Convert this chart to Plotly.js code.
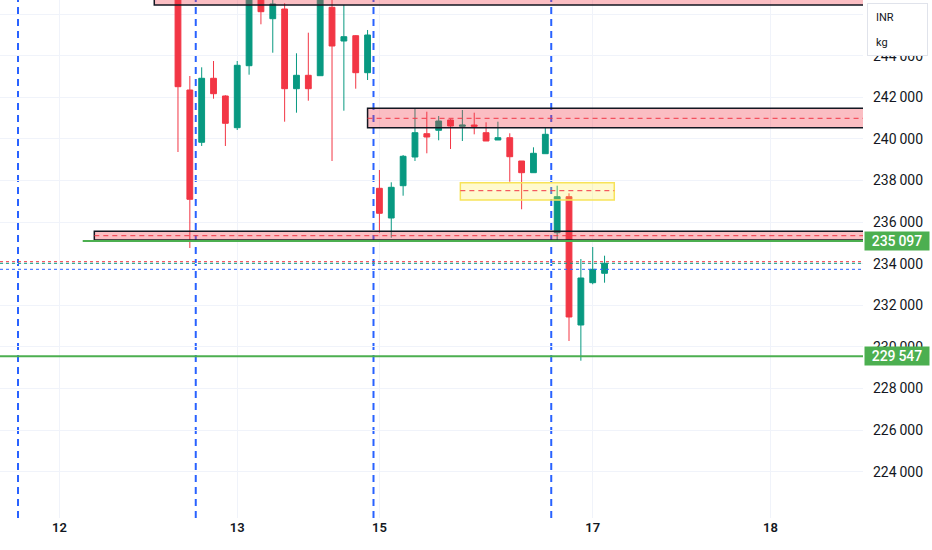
<!DOCTYPE html>
<html>
<head>
<meta charset="utf-8">
<script src="https://cdn.plot.ly/plotly-3.0.1.min.js"></script>
<style>html,body{margin:0;padding:0;background:#fff;}#chart{width:932px;height:550px;}</style>
</head>
<body>
<div id="chart"></div>
<script>
// Bar index (hourly bars, 15 per session)
var barIndex = [13,14,15,16,17,18,19,20,21,22,23,24,25,26,27,28,29,30,31,32,33,34,35,36,37,38,39,40,41,42,43,44,45,46,47,48,49];
var openV  = [247600,242351,239837,242914,242063,240539,243519,246870,245779,246245,242414,243058,243039,246327,244707,244962,243183,237625,236197,237750,239130,240250,240414,240909,240606,240668,240298,239947,240058,238938,238375,239289,235490,237221,231053,233087,233539];
var highV  = [247900,243024,243442,243745,242100,243745,247400,247063,246774,246519,244116,245106,247400,246700,246438,244990,245236,238505,237914,239226,241471,241308,241101,240950,241390,241260,240798,240827,240270,238938,239596,240539,237750,237385,234225,234803,234385];
var lowV   = [239370,234755,239659,241933,239659,240428,243087,245510,244144,240827,241260,241837,243039,238938,241356,242414,242832,235490,235250,237269,238938,239308,239933,239515,239899,240221,239899,239947,237942,236616,238375,239289,235091,230284,229337,233011,233087];
var closeV = [242510,237096,242914,242173,240750,243539,247063,246116,246486,242414,243058,242414,247159,244466,244914,243183,244995,236423,237673,239164,240298,240091,240861,240620,240668,240606,239899,240058,239144,238375,239308,240221,237221,231438,233313,233731,234019];

// Axis ticks
var dateTickPos = [3,18,30,48,63];
var dateTickText = ['12','13','15','17','18'];
var priceTickVals = [224000,226000,228000,230000,232000,234000,236000,238000,240000,242000,244000,246000];
var priceTickText = ['224\u2009000','226\u2009000','228\u2009000','230\u2009000','232\u2009000','234\u2009000','236\u2009000','238\u2009000','240\u2009000','242\u2009000','244\u2009000','246\u2009000'];

// Session separators (between bars)
var sessionBreaks = [-0.5,14.5,29.5,44.5];

// Zones: [xStart, xEnd, priceLow, priceHigh, priceMid]
var zoneTop    = [11.0, 80, 246438, 248500];
var zoneUpper  = [29.0, 80, 240539, 241471, 240990];
var zoneYellow = [36.83, 49.82, 237063, 237894, 237510];
var zoneLower  = [5.94, 80, 235140, 235558, 235346];

// Horizontal levels
var levelA = 235097, levelAStart = 4.96;
var levelB = 229547;
var priceLines = [234097, 234019, 233731];
var priceLineColors = ['#f23645','#089981','#2962ff'];
var levelLabels = ['235\u2009097','229\u2009547'];

var xRange = [-2.02, 70.81];
var yRange = [221774, 246678];

var shapes = [];
sessionBreaks.forEach(function(b){
  shapes.push({type:'line', xref:'x', yref:'paper', x0:b, x1:b, y0:0, y1:1, layer:'below',
    line:{color:'#2962ff', width:2, dash:'7px,5px'}});
});
priceLines.forEach(function(p,k){
  shapes.push({type:'line', xref:'paper', yref:'y', x0:0, x1:1, y0:p, y1:p, layer:'above',
    line:{color:priceLineColors[k], width:1, dash:'dot'}});
});
function pinkZone(z, withMid){
  shapes.push({type:'rect', xref:'x', yref:'y', x0:z[0], x1:z[1], y0:z[2], y1:z[3], layer:'above',
    fillcolor:'rgba(242,54,69,0.32)', line:{color:'#131722', width:1.5}});
  if(withMid) shapes.push({type:'line', xref:'x', yref:'y', x0:z[0], x1:z[1], y0:z[4], y1:z[4], layer:'above',
    line:{color:'#f23645', width:1, dash:'5px,4px'}});
}
pinkZone(zoneTop,false);
pinkZone(zoneUpper,true);
pinkZone(zoneLower,true);
shapes.push({type:'rect', xref:'x', yref:'y', x0:zoneYellow[0], x1:zoneYellow[1], y0:zoneYellow[2], y1:zoneYellow[3], layer:'above',
  fillcolor:'rgba(255,235,59,0.25)', line:{color:'#f7e35a', width:1.5}});
shapes.push({type:'line', xref:'x', yref:'y', x0:zoneYellow[0], x1:zoneYellow[1], y0:zoneYellow[4], y1:zoneYellow[4], layer:'above',
  line:{color:'#f23645', width:1, dash:'5px,4px'}});
shapes.push({type:'line', xref:'x', yref:'y', x0:levelAStart, x1:80, y0:levelA, y1:levelA, layer:'above',
  line:{color:'#4caf50', width:2}});
shapes.push({type:'line', xref:'paper', yref:'y', x0:0, x1:1, y0:levelB, y1:levelB, layer:'above',
  line:{color:'#4caf50', width:2}});

var annotations = [
  {xref:'paper', yref:'paper', x:1, y:1, xanchor:'left', yanchor:'top', xshift:4, yshift:-3,
   text:' ', width:57, height:49, showarrow:false, bgcolor:'#ffffff', bordercolor:'#e0e3eb', borderwidth:1},
  {xref:'paper', yref:'paper', x:1, y:1, xanchor:'left', yanchor:'middle', xshift:11, yshift:-17,
   text:'INR', showarrow:false, font:{family:'Roboto, sans-serif', size:11, color:'#131722'}},
  {xref:'paper', yref:'paper', x:1, y:1, xanchor:'left', yanchor:'middle', xshift:11, yshift:-42,
   text:'kg', showarrow:false, font:{family:'Roboto, sans-serif', size:11, color:'#131722'}},
  {xref:'paper', yref:'y', x:1, y:levelA, xanchor:'left', yanchor:'middle', xshift:1,
   text:levelLabels[0], showarrow:false, bgcolor:'#4caf50', width:62, height:16,
   font:{family:'Roboto, sans-serif', size:14, color:'#ffffff', weight:500}},
  {xref:'paper', yref:'y', x:1, y:levelB, xanchor:'left', yanchor:'middle', xshift:1,
   text:levelLabels[1], showarrow:false, bgcolor:'#4caf50', width:62, height:16,
   font:{family:'Roboto, sans-serif', size:14, color:'#ffffff', weight:500}}
];

var trace = {
  type:'candlestick', x:barIndex, open:openV, high:highV, low:lowV, close:closeV,
  increasing:{line:{color:'#089981', width:1}, fillcolor:'#089981'},
  decreasing:{line:{color:'#f23645', width:1}, fillcolor:'#f23645'},
  whiskerwidth:0, hoverinfo:'none', showlegend:false
};

var layout = {
  width:932, height:550,
  margin:{l:0, r:69, t:0, b:32, pad:0},
  paper_bgcolor:'#ffffff', plot_bgcolor:'#ffffff',
  showlegend:false,
  boxgap:0.3,
  xaxis:{range:xRange, type:'linear', rangeslider:{visible:false}, showgrid:true, gridcolor:'#f0f3fa', gridwidth:1,
    zeroline:false, showline:false, ticks:'', tickvals:dateTickPos, ticktext:dateTickText,
    tickfont:{family:'Roboto, sans-serif', size:13, color:'#131722', weight:600}, fixedrange:true},
  yaxis:{range:yRange, side:'right', showgrid:true, gridcolor:'#f0f3fa', gridwidth:1, zeroline:false, showline:false,
    ticks:'', tickvals:priceTickVals, ticktext:priceTickText, ticklabelstandoff:9,
    tickfont:{family:'Roboto, sans-serif', size:14, color:'#131722'}, fixedrange:true},
  shapes:shapes,
  annotations:annotations
};

Plotly.newPlot('chart', [trace], layout, {displayModeBar:false, staticPlot:true});
</script>
</body>
</html>
